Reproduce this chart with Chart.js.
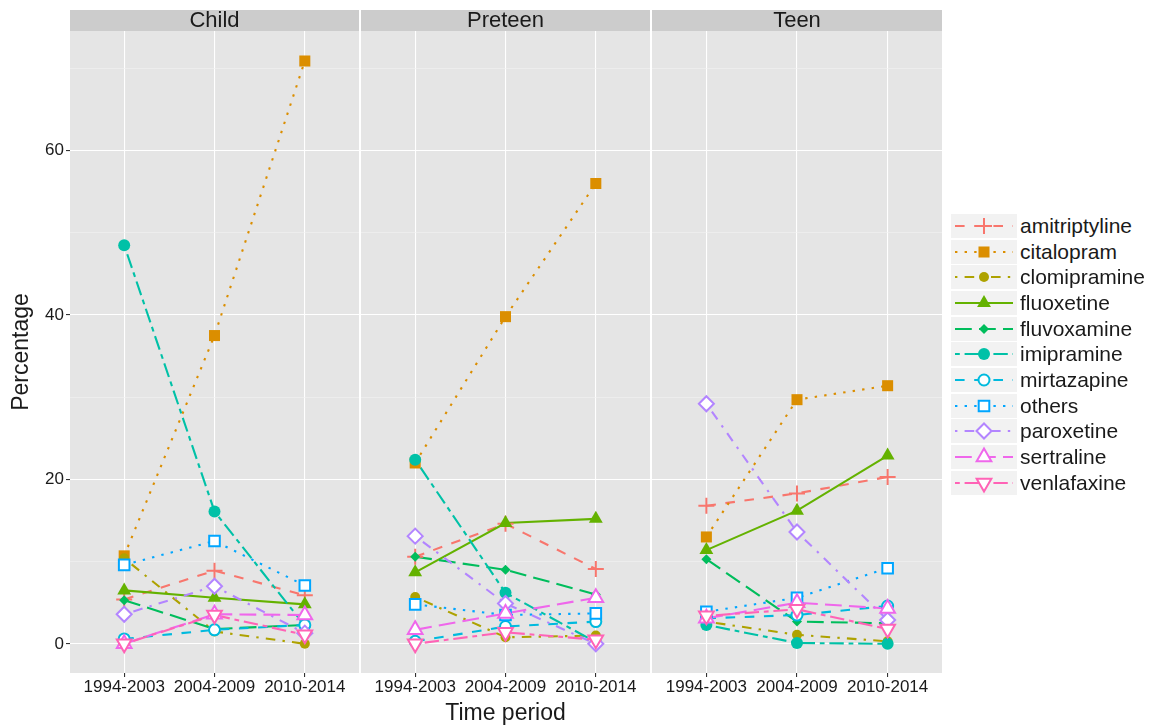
<!DOCTYPE html>
<html>
<head>
<meta charset="utf-8">
<script src="https://cdn.jsdelivr.net/npm/chart.js@4.4.1/dist/chart.umd.min.js"></script>
<style>
  body { margin: 0; background: #fff; width: 1153px; height: 727px; overflow: hidden; position: relative;
         font-family: "Liberation Sans", Arial, sans-serif; }
  canvas.panel { position: absolute; top: 0; }
  #legend { position: absolute; left: 950px; top: 213px; width: 200px; }
  .row { position: absolute; left: 0; height: 26px; }
  .row canvas { position: absolute; left: 0; top: 0; }
  .row span { position: absolute; left: 70px; top: 0; line-height: 26px; font-size: 21px; color: #1a1a1a; white-space: nowrap; }
</style>
</head>
<body>
<canvas id="p0" class="panel" width="359" height="727" style="left:0px"></canvas>
<canvas id="p1" class="panel" width="289" height="727" style="left:361px"></canvas>
<canvas id="p2" class="panel" width="290" height="727" style="left:652px"></canvas>
<div id="legend"></div>

<script>
// Age groups (facets) and time periods (x axis)
const groups  = ['Child', 'Preteen', 'Teen'];
const periods = ['1994-2003', '2004-2009', '2010-2014'];
const drugs   = ['amitriptyline', 'citalopram', 'clomipramine', 'fluoxetine', 'fluvoxamine',
                 'imipramine', 'mirtazapine', 'others', 'paroxetine', 'sertraline', 'venlafaxine'];

// Percentage per drug: one row per age group, one value per period
const amitriptyline = [[5.4, 8.9, 5.9],   [10.6, 14.6, 9.1], [16.8, 18.3, 20.3]];
const citalopram    = [[10.7, 37.5, 70.9], [22.0, 39.8, 56.0], [13.0, 29.7, 31.4]];
const clomipramine  = [[10.4, 1.5, 0.0],  [5.7, 0.8, 1.0],   [2.7, 1.1, 0.3]];
const fluoxetine    = [[6.5, 5.6, 4.8],   [8.7, 14.7, 15.2], [11.4, 16.2, 22.9]];
const fluvoxamine   = [[5.3, 1.8, 2.3],   [10.6, 9.0, 6.0],  [10.3, 2.7, 2.5]];
const imipramine    = [[48.5, 16.1, 2.2], [22.4, 6.2, 0.2],  [2.3, 0.1, 0.0]];
const mirtazapine   = [[0.6, 1.7, 2.3],   [0.3, 2.1, 2.7],   [3.1, 3.5, 4.6]];
const others        = [[9.6, 12.5, 7.1],  [4.8, 3.5, 3.7],   [3.9, 5.6, 9.2]];
const paroxetine    = [[3.6, 7.0, 1.3],   [13.1, 4.9, 0.0],  [29.2, 13.6, 2.9]];
const sertraline    = [[0.0, 3.6, 3.5],   [1.7, 3.7, 5.6],   [3.1, 5.0, 4.3]];
const venlafaxine   = [[0.0, 3.5, 1.1],   [0.0, 1.4, 0.5],   [3.4, 4.2, 1.8]];

const values = { amitriptyline, citalopram, clomipramine, fluoxetine, fluvoxamine,
                 imipramine, mirtazapine, others, paroxetine, sertraline, venlafaxine };

// Axis ticks
const yMajor = [0, 20, 40, 60];
const yMinor = [10, 30, 50, 70];

// ---- styling -------------------------------------------------------------
const U = 2.4; // dash unit (line-width multiples)
const DASH = {
  solid: [], dashed: [4*U, 4*U], dotted: [1*U, 3*U], dotdash: [1*U, 3*U, 4*U, 3*U],
  longdash: [7*U, 3*U], twodash: [2*U, 2*U, 6*U, 2*U]
};
const STYLE = {
  amitriptyline: { color: '#F8766D', dash: 'dashed',   shape: 'cross',    r: 8 },
  citalopram:    { color: '#DB8E00', dash: 'dotted',   shape: 'rect',     r: 7.8 },
  clomipramine:  { color: '#AEA200', dash: 'dotdash',  shape: 'circle',   r: 5 },
  fluoxetine:    { color: '#64B200', dash: 'solid',    shape: 'triangle', r: 8 },
  fluvoxamine:   { color: '#00BD5C', dash: 'longdash', shape: 'rectRot',  r: 5 },
  imipramine:    { color: '#00C1A7', dash: 'twodash',  shape: 'circle',   r: 6 },
  mirtazapine:   { color: '#00BADE', dash: 'dashed',   shape: 'circle',   r: 5.5, open: true },
  others:        { color: '#00A6FF', dash: 'dotted',   shape: 'rect',     r: 7.5, open: true },
  paroxetine:    { color: '#B385FF', dash: 'dotdash',  shape: 'rectRot',  r: 7.5, open: true },
  sertraline:    { color: '#EF67EB', dash: 'longdash', shape: 'triangle', r: 8.5, open: true },
  venlafaxine:   { color: '#FF63B6', dash: 'twodash',  shape: 'triangle', r: 8.5, open: true, rot: 180 }
};
const FONT = '"Liberation Sans", Arial, sans-serif';
const TEXT = '#1a1a1a';
const PANEL_BG = '#E5E5E5', STRIP_BG = '#CCCCCC';

function pointOpts(s) {
  return {
    pointStyle: s.shape,
    pointRadius: s.r,
    pointRotation: s.rot || 0,
    pointBackgroundColor: s.open ? '#FFFFFF' : s.color,
    pointBorderColor: s.color,
    pointBorderWidth: (s.open || s.shape === 'cross') ? 2 : 0
  };
}

// panel background + facet strip
const stripPlugin = {
  id: 'strip',
  beforeDraw(chart, args, opts) {
    const { ctx, chartArea: a } = chart;
    ctx.save();
    ctx.fillStyle = PANEL_BG;
    ctx.fillRect(a.left, a.top, a.right - a.left, a.bottom - a.top);
    ctx.fillStyle = STRIP_BG;
    ctx.fillRect(a.left, a.top - 21, a.right - a.left, 21);
    ctx.fillStyle = TEXT;
    ctx.font = '22px ' + FONT;
    ctx.textAlign = 'center';
    ctx.textBaseline = 'middle';
    ctx.fillText(opts.text, (a.left + a.right) / 2, a.top - 10);
    ctx.restore();
  }
};

function makePanel(canvasId, g) {
  const first = g === 0;
  const middle = g === 1;
  const datasets = [];
  drugs.forEach((d, i) => {
    const s = STYLE[d];
    const pts = periods.map((p, k) => ({ x: k, y: values[d][g][k] }));
    // line layer (all lines are drawn beneath all markers)
    datasets.push({
      label: d, data: pts, borderColor: s.color, borderWidth: 2.1, borderDash: DASH[s.dash],
      pointRadius: 0, fill: false, tension: 0, order: 100 - i
    });
    // marker layer
    datasets.push(Object.assign({
      label: d, data: pts, showLine: false, order: 50 - i
    }, pointOpts(s)));
  });

  return new Chart(document.getElementById(canvasId), {
    type: 'line',
    data: { datasets },
    plugins: [stripPlugin],
    options: {
      responsive: false,
      animation: false,
      events: [],
      layout: { autoPadding: false, padding: { top: 31, left: 0, right: 0, bottom: 0 } },
      plugins: { legend: { display: false }, tooltip: { enabled: false }, strip: { text: groups[g] } },
      scales: {
        x: {
          type: 'linear', min: -0.6, max: 2.6,
          afterBuildTicks: s => { s.ticks = periods.map((p, k) => ({ value: k })); },
          afterFit: s => { s.height = 54; s.paddingLeft = 0; s.paddingRight = 0; },
          ticks: { callback: v => periods[v], font: { family: FONT, size: 17 }, color: TEXT,
                   padding: 0, maxRotation: 0, autoSkip: false },
          grid: { color: '#FFFFFF', lineWidth: 1.1, tickColor: '#333333', tickLength: 4, drawTicks: true },
          border: { display: false },
          title: { display: middle, text: 'Time period', font: { family: FONT, size: 23 }, color: TEXT,
                   padding: { top: 0, bottom: 0 } }
        },
        y: {
          type: 'linear', min: -3.55, max: 74.55,
          afterBuildTicks: s => {
            s.ticks = yMajor.concat(yMinor).sort((a, b) => a - b).map(v => ({ value: v }));
          },
          afterFit: s => { s.width = first ? 70 : 0; s.paddingTop = 0; s.paddingBottom = 0; },
          ticks: { display: first, callback: v => (yMajor.includes(v) ? String(v) : ''),
                   font: { family: FONT, size: 17 }, color: TEXT, padding: 2 },
          grid: {
            color: c => (yMajor.includes(c.tick.value) ? '#FFFFFF' : '#F2F2F2'),
            lineWidth: c => (yMajor.includes(c.tick.value) ? 1.1 : 0.6),
            tickColor: c => (yMajor.includes(c.tick.value) ? '#333333' : 'rgba(0,0,0,0)'),
            tickLength: 4, drawTicks: first
          },
          border: { display: false },
          title: { display: first, text: 'Percentage', font: { family: FONT, size: 23 }, color: TEXT,
                   padding: { top: 8, bottom: 0 } }
        }
      }
    }
  });
}

makePanel('p0', 0);
makePanel('p1', 1);
makePanel('p2', 2);

// ---- legend ----------------------------------------------------------------
(function buildLegend() {
  const box = document.getElementById('legend');
  const KW = 68, KH = 25.65;
  drugs.forEach((d, i) => {
    const s = STYLE[d];
    const row = document.createElement('div');
    row.className = 'row';
    row.style.top = (i * KH) + 'px';
    const cv = document.createElement('canvas');
    cv.width = KW; cv.height = 26;
    row.appendChild(cv);
    const lab = document.createElement('span');
    lab.textContent = d;
    row.appendChild(lab);
    box.appendChild(row);

    const ctx = cv.getContext('2d');
    ctx.fillStyle = '#F2F2F2';
    ctx.fillRect(0, 0, KW, 26);
    ctx.strokeStyle = '#FFFFFF';
    ctx.lineWidth = 1;
    ctx.strokeRect(0.5, 0.5, KW - 1, 25);
    const cy = 13;
    ctx.strokeStyle = s.color;
    ctx.lineWidth = 2.1;
    ctx.setLineDash(DASH[s.dash]);
    ctx.beginPath();
    ctx.moveTo(5, cy); ctx.lineTo(KW - 5, cy);
    ctx.stroke();
    ctx.setLineDash([]);
    const po = pointOpts(s);
    ctx.fillStyle = po.pointBackgroundColor;
    ctx.strokeStyle = po.pointBorderColor;
    ctx.lineWidth = po.pointBorderWidth;
    Chart.helpers.drawPoint(ctx, {
      pointStyle: s.shape, rotation: s.rot || 0, radius: s.r, borderWidth: po.pointBorderWidth
    }, KW / 2, cy);
  });
})();
</script>
</body>
</html>
